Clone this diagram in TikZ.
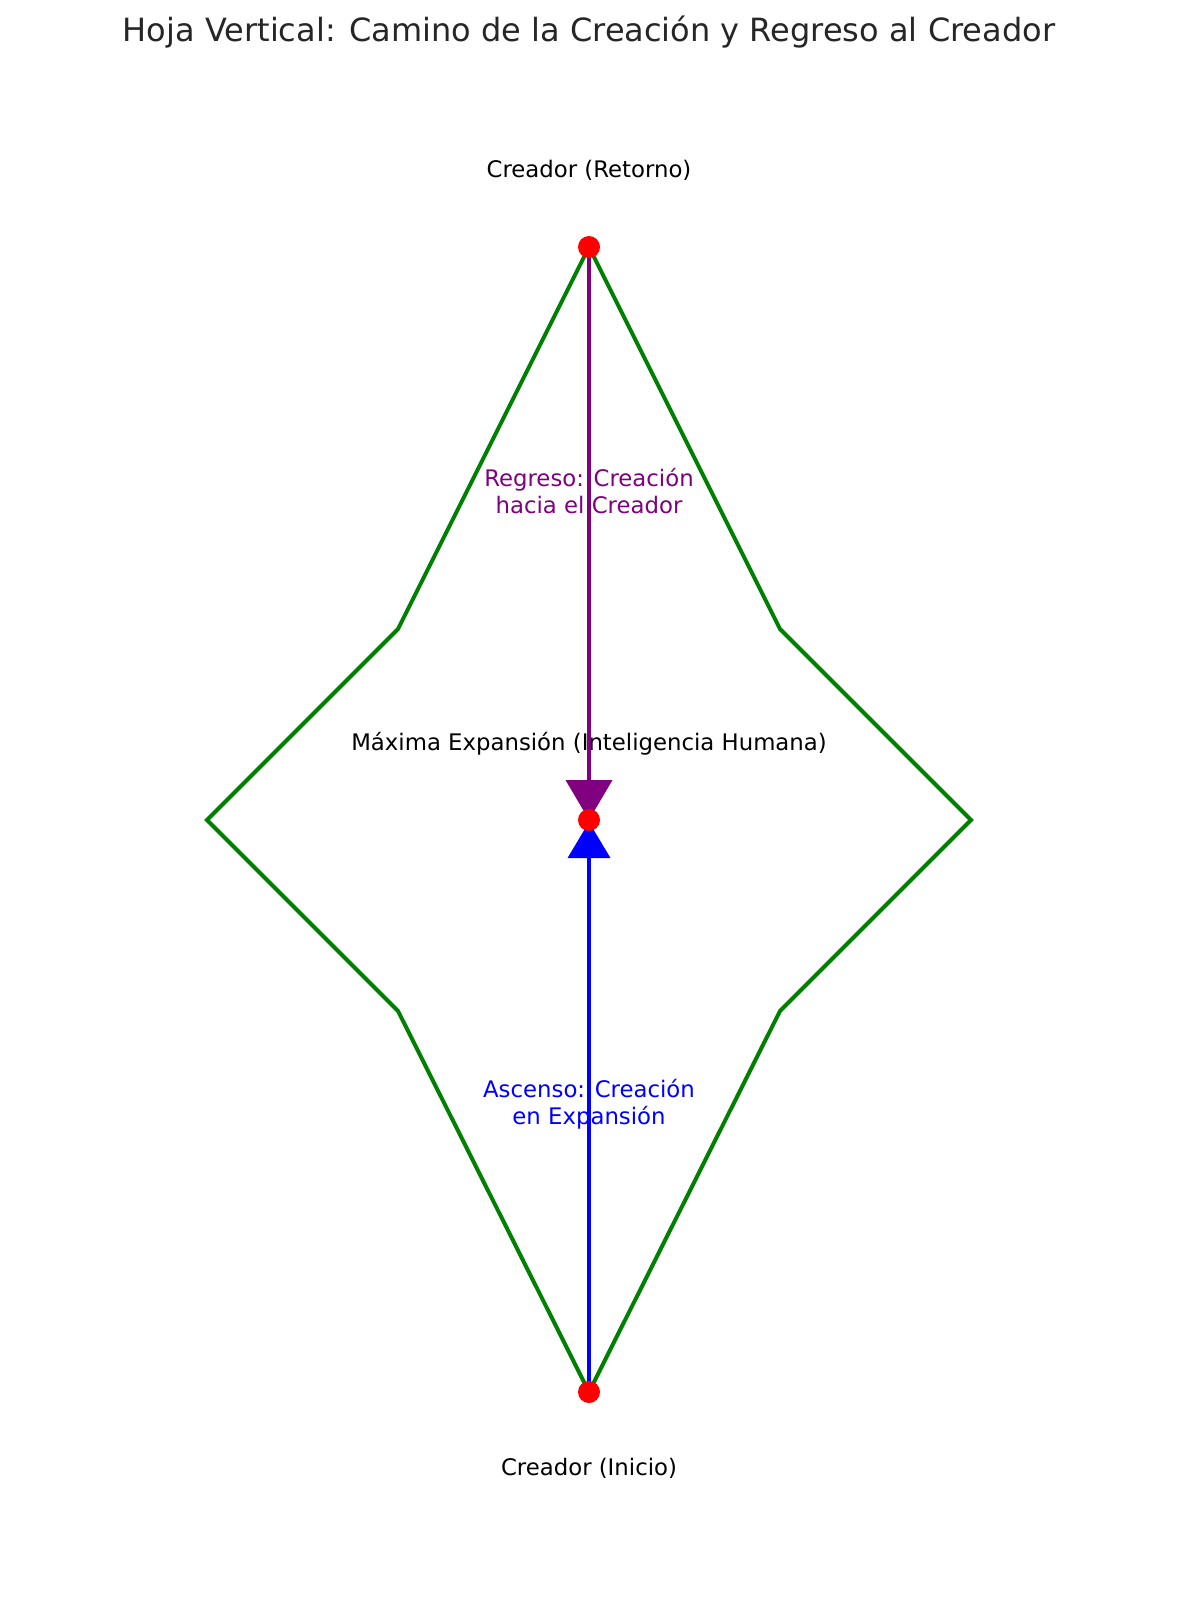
\documentclass[tikz,border=0pt]{standalone}
\usepackage{fontspec}
\setmainfont{DejaVu Sans}
\usetikzlibrary{arrows.meta}
\definecolor{leafgreen}{HTML}{008000}
\definecolor{retpurple}{HTML}{800080}
\definecolor{ascblue}{HTML}{0000FF}
\definecolor{dotred}{HTML}{FF0000}
\definecolor{titlegray}{HTML}{262626}
\begin{document}
\begin{tikzpicture}[x=0.5pt,y=-0.5pt,
  leafline/.style={draw=leafgreen, line width=2pt, line join=miter},
  dotnode/.style={circle, fill=dotred, minimum size=11pt, inner sep=0pt},
  lbl/.style={font=\fontsize{11.4}{13.5}\selectfont, anchor=base, inner sep=0pt, align=center},
  titlelbl/.style={font=\fontsize{16}{18}\selectfont, anchor=base, inner sep=0pt, text=titlegray},
  retarrow/.style={draw=retpurple, line width=2pt, -{Triangle[width=23pt,length=20pt]}},
  ascarrow/.style={draw=ascblue, line width=1.8pt, -{Triangle[width=21pt,length=18pt]}, shorten >=1pt}
]
\useasboundingbox (0,0) rectangle (1178,1600);
% leaf outline
\coordinate (ptop) at (589,247);
\coordinate (lk1) at (398,629);
\coordinate (lt) at (207,820);
\coordinate (lk2) at (398,1011);
\coordinate (pbot) at (589,1392);
\coordinate (rk2) at (780,1011);
\coordinate (rt) at (971,820);
\coordinate (rk1) at (780,629);
\draw[leafline] (ptop) -- (lk1) -- (lt) -- (lk2) -- (pbot) -- (rk2) -- (rt) -- (rk1) -- cycle;
% labels
\node[titlelbl] (title) at (589,41.7) {Hoja Vertical: Camino de la Creación y Regreso al Creador};
\node[lbl] (ltop) at (589,177.3) {Creador (Retorno)};
\node[lbl] (lmid) at (589,750.7) {Máxima Expansión (Inteligencia Humana)};
\node[lbl] (lbot) at (589,1475.7) {Creador (Inicio)};
\node[lbl, text=retpurple] (lret) at (589,513.5) {Regreso: Creación\\hacia el Creador};
\node[lbl, text=ascblue] (lasc) at (589,1124) {Ascenso: Creación\\en Expansión};
% points
\node[inner sep=0pt, minimum size=0pt] (top) at (589,247) {};
\node[inner sep=0pt, minimum size=0pt] (mid) at (589,820) {};
\node[inner sep=0pt, minimum size=0pt] (bot) at (589,1392) {};
% arrows
\draw[retarrow] (top.center) -- (mid.center);
\draw[ascarrow] (bot.center) -- (mid.center);
% dots
\node[dotnode] (dtop) at (top) {};
\node[dotnode] (dmid) at (mid) {};
\node[dotnode] (dbot) at (bot) {};
\end{tikzpicture}
\end{document}
